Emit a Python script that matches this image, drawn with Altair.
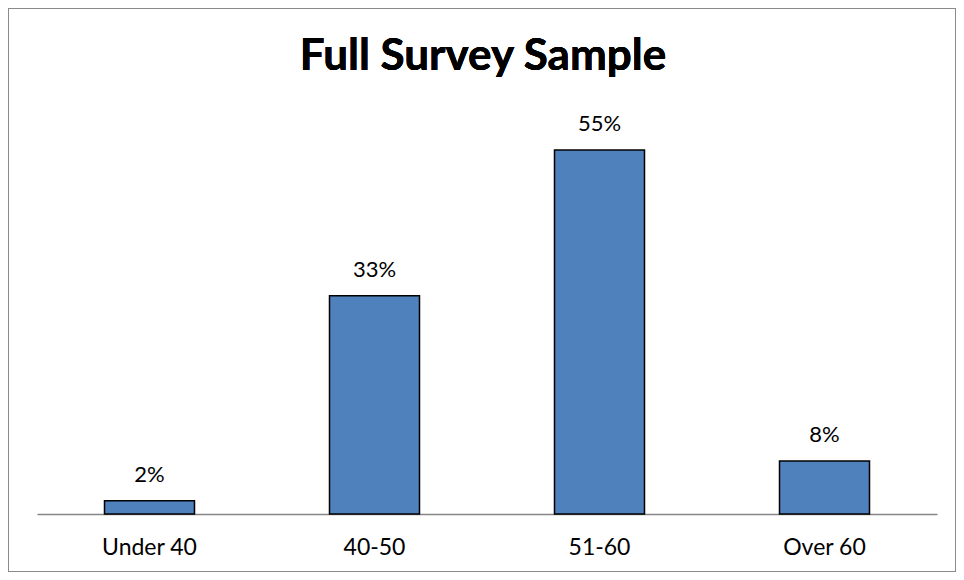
import altair as alt
import pandas as pd

categories = ["Under 40", "40-50", "51-60", "Over 60"]
values = [2, 33, 55, 8]
labels = ["2%", "33%", "55%", "8%"]

df = pd.DataFrame({"cat": categories, "val": values, "lab": labels})

FONT = "Lato"

x = alt.X("cat:N", sort=categories, title=None,
          scale=alt.Scale(paddingInner=0.6, paddingOuter=0.3),
          axis=alt.Axis(labelAngle=0, ticks=False, domainColor="#868686", domainWidth=1.5,
                        labelFontSize=23, labelFont=FONT, labelColor="#000000",
                        labelBaseline="alphabetic", labelPadding=40))
y = alt.Y("val:Q", title=None, scale=alt.Scale(domain=[0, 60], nice=False), axis=None)

bars = alt.Chart(df).mark_bar(color="#4F81BD", stroke="#000000", strokeWidth=1.5).encode(x=x, y=y)
text = alt.Chart(df).mark_text(font=FONT, fontSize=22, baseline="alphabetic", dy=-19, color="#000000").encode(
    x=alt.X("cat:N", sort=categories), y="val:Q", text="lab:N")

border = alt.Chart(df).mark_rect(fill=None, stroke="#8a8a8a", strokeWidth=2, clip=False).encode(
    x=alt.value(-29), x2=alt.value(919), y=alt.value(-109), y2=alt.value(455))

title = alt.Chart(df).mark_text(font=FONT, fontSize=44, fontWeight="bold", color="#000000",
                                baseline="alphabetic", clip=False).encode(
    x=alt.value(446), y=alt.value(-47), text=alt.value("Full Survey Sample"))

chart = alt.layer(border, bars, text, title).properties(
    width=900, height=397,
    padding={"left": 29, "top": 109, "right": 19, "bottom": 58},
    autosize=alt.AutoSizeParams(type="none"),
).configure_view(stroke=None)

chart.save("out.html", embed_options={"renderer": "svg", "actions": False})
